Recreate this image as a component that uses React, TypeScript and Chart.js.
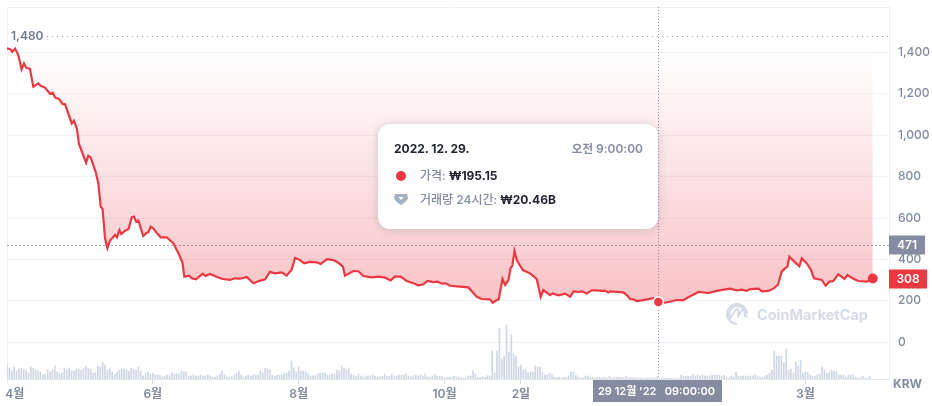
import { useEffect, useRef } from 'react';
import { Chart, registerables, type Plugin } from 'chart.js';

Chart.register(...registerables);

const FONT = 'Inter, "Noto Sans CJK KR", sans-serif';
const RED = '#ea3943';
const GREY = '#858ca2';
const TICK_GREY = '#808a9d';
const GRID = '#f1f3f6';

// days since 1 April 2022
const priceDays = [
  0, 1.3, 2.2, 3.4, 4.7, 5.4, 6.1, 7.1, 8, 9.6, 11, 13.1, 14.1, 15.9, 18, 19.1, 20.1, 21.9, 23.2, 24.3,
  27.1, 28, 29.2, 30.1, 33.1, 34, 35, 37.2, 38.2, 39.2, 40, 41, 42, 43.1, 45.2, 46, 47, 47.8, 49.4, 50.8,
  52.2, 53.1, 54, 55, 57, 58.4, 59.1, 60.1, 61.2, 62.6, 64.3, 66.8, 69.6, 71.7, 73.4, 74.2, 76.2, 77.3, 79, 81.9,
  83.1, 84.9, 87.7, 89.8, 93.3, 95.4, 97.5, 100.3, 103.1, 105.9, 108, 110, 112.1, 114.9, 117, 119.1, 120.5, 122.6, 124.3, 126.8,
  129.6, 131.2, 133.8, 136.5, 138.6, 140.5, 141.4, 144.9, 147, 149.1, 152.6, 155.4, 158.2, 160.5, 162.4, 164.7, 167.2, 170, 172.1, 174.2,
  175.9, 178.4, 180.1, 181.9, 183.5, 185.4, 189.5, 193, 196.5, 198.6, 202.1, 203.2, 204.9, 205.7, 207.3, 208.4, 209.8, 210.7, 211.4, 212.3,
  213.3, 215.8, 218.8, 221.6, 223.3, 224.4, 227.2, 228.3, 230.7, 233.5, 235.6, 237, 239.1, 240.5, 242.5, 244.6, 246.7, 248.8, 250.2, 251.6,
  252.3, 257.9, 259.3, 260.7, 262.1, 263.5, 266.2, 270.4, 272.5, 275.3, 278.1, 280.2, 283, 285.8, 289.3, 293.4, 296.9, 302.5, 305.3, 307.4,
  309.5, 310.9, 314.4, 315.8, 318.5, 320.6, 322.5, 324.1, 325.5, 326.5, 327.3, 329.7, 331.5, 332.5, 334.6, 336.4, 337.6, 340.9, 342.5, 344,
  345.7, 347.8, 350.4, 351.6, 354.1, 356.2, 359.7, 362.2,
];

const priceValues = [
  1419, 1415, 1403, 1418, 1387, 1355, 1318, 1347, 1326, 1320, 1234, 1250, 1238, 1230, 1199, 1205, 1183, 1173, 1151, 1149,
  1057, 1070, 1033, 958, 867, 901, 893, 819, 768, 655, 644, 502, 455, 491, 518, 507, 542, 523, 539, 546,
  603, 607, 583, 587, 513, 529, 531, 558, 550, 529, 507, 507, 478, 430, 385, 317, 322, 309, 304, 331,
  320, 330, 317, 307, 301, 309, 307, 315, 285, 298, 304, 340, 333, 338, 322, 352, 407, 397, 381, 388,
  386, 378, 401, 397, 384, 365, 322, 344, 343, 320, 314, 317, 312, 299, 318, 317, 296, 285, 275, 280,
  296, 291, 293, 283, 285, 273, 269, 265, 220, 209, 207, 191, 204, 207, 306, 277, 301, 360, 368, 441,
  397, 349, 333, 306, 219, 252, 228, 236, 227, 235, 220, 246, 243, 246, 236, 251, 251, 248, 249, 241,
  246, 241, 228, 209, 207, 199, 204, 213, 195.15, 191, 198, 204, 204, 222, 243, 238, 248, 259, 251, 254,
  249, 257, 259, 246, 248, 259, 277, 341, 357, 365, 413, 386, 367, 405, 381, 349, 309, 301, 273, 293,
  296, 328, 306, 325, 307, 296, 293, 308,
];

// one bar per day, billions of won
const volumeValues = [
  150, 110, 80, 120, 80, 100, 110, 100, 80, 60, 120, 110, 90, 80, 70, 40, 50, 90, 70, 90, 130, 70, 50, 60, 110, 90, 110, 80, 80, 100,
  100, 90, 110, 130, 110, 100, 60, 70, 130, 120, 170, 140, 90, 100, 70, 50, 70, 90, 100, 100, 90, 80, 110, 90, 90, 120, 80, 30, 60, 70,
  50, 60, 40, 40, 40, 20, 30, 40, 30, 60, 50, 50, 50, 80, 70, 70, 30, 30, 40, 30, 30, 40, 30, 30, 40, 30, 20, 20, 30, 50,
  80, 40, 20, 20, 20, 40, 60, 80, 40, 20, 30, 40, 30, 40, 40, 40, 80, 60, 110, 100, 90, 40, 30, 40, 40, 40, 60, 60, 80, 180,
  110, 70, 120, 80, 80, 70, 50,
  30, 30, 33, 53, 60, 60, 60, 40, 40, 50, 50, 90, 80, 130, 110, 90, 110, 50, 40, 30, 50, 30, 20, 30, 30, 30, 40, 30, 20, 20,
  27, 50, 30, 30, 50, 30, 30, 40, 40, 40, 50, 30, 20, 30, 40, 30, 40, 27, 50, 20, 20, 30, 50, 30, 30, 27, 13, 17, 17, 20,
  27, 20, 20, 10, 10, 10, 30, 30, 80, 50, 20, 17, 23, 17, 33, 30, 280, 60, 280, 510, 200, 230, 540, 270, 440, 250, 230, 120, 140, 90,
  90, 60, 70, 70, 130, 120, 120, 70, 40, 40, 60, 40, 20, 13, 20, 10, 17, 17, 30, 70, 70, 40, 20, 10, 10, 30, 30, 20, 17, 10,
  13, 17, 10, 20, 10,
  30, 13, 13, 17, 13, 13, 10, 30, 17, 13, 13, 10, 10, 10, 7, 4, 10, 7, 10, 10, 20.46, 6, 5, 10, 7, 10, 7, 7, 4, 4,
  40, 27, 27, 30, 30, 50, 30, 40, 30, 40, 30, 30, 30, 40, 40, 40, 40, 30, 40, 20, 10, 30, 20, 70, 30, 30, 30, 30, 30, 30,
  30, 40, 30, 20, 20, 30, 40, 60, 90, 280, 230, 230, 230, 160, 300, 90, 100, 60, 170, 130, 190, 60, 70, 70, 40, 30, 30, 40, 50, 120,
  90, 60, 70, 90, 80, 70, 40, 40, 40, 20, 40, 40, 40, 20, 10, 10, 30, 10, 10, 30,
];

const xTickDays = [3.3, 61, 122, 183, 215, 334];
const xTickLabels = ['4월', '6월', '8월', '10월', '2일', '3월'];
const yTickValues = [0, 200, 400, 600, 800, 1000, 1200, 1400];

const highPrice = 1480;
const highLabel = '1,480';
const referencePrice = 471;
const currentPrice = 308;
const currentDay = 362.2;
const hoverDay = 272.5;
const hoverPrice = 195.15;
const hoverAxisLabel = "29 12월 '22   09:00:00";
const startPrice = 1415;

const overlay: Plugin<'line'> = {
  id: 'overlay',
  beforeDatasetsDraw(chart) {
    const { ctx, chartArea: a, scales } = chart;
    const hoverX = scales.x.getPixelForValue(hoverDay);
    const highY = Math.round(scales.y.getPixelForValue(highPrice)) + 0.5;
    const refY = Math.round(scales.y.getPixelForValue(referencePrice)) + 0.5;
    ctx.save();
    ctx.strokeStyle = '#eff2f5';
    ctx.lineWidth = 1;
    ctx.beginPath();
    ctx.moveTo(a.left + 0.5, a.bottom + 5);
    ctx.lineTo(a.left + 0.5, a.top + 0.5);
    ctx.lineTo(a.right, a.top + 0.5);
    ctx.stroke();

    ctx.strokeStyle = '#9aa2b5';
    ctx.setLineDash([1, 4]);
    ctx.beginPath();
    ctx.moveTo(a.left + 40, highY);
    ctx.lineTo(a.right, highY);
    ctx.stroke();
    ctx.setLineDash([2, 2]);
    ctx.beginPath();
    ctx.moveTo(a.left, refY);
    ctx.lineTo(a.right, refY);
    ctx.stroke();
    ctx.strokeStyle = '#8f9db8';
    ctx.setLineDash([1, 2]);
    ctx.beginPath();
    ctx.moveTo(Math.round(hoverX) + 0.5, a.top);
    ctx.lineTo(Math.round(hoverX) + 0.5, a.bottom);
    ctx.stroke();
    ctx.restore();
  },
  afterDraw(chart) {
    const { ctx, chartArea: a, scales } = chart;
    const hoverX = scales.x.getPixelForValue(hoverDay);
    ctx.save();
    ctx.textBaseline = 'middle';

    ctx.font = `600 12px ${FONT}`;
    ctx.fillStyle = '#6f7a90';
    ctx.textAlign = 'left';
    ctx.fillText(highLabel, a.left + 4, scales.y.getPixelForValue(highPrice) + 1);

    const tag = (text: string, price: number, width: number, color: string) => {
      const y = scales.y.getPixelForValue(price);
      ctx.fillStyle = color;
      ctx.fillRect(a.right, Math.round(y) - 9.5, width, 19);
      ctx.fillStyle = '#fff';
      ctx.textAlign = 'center';
      ctx.fillText(text, a.right + width / 2, y + 0.5);
    };
    tag(String(referencePrice), referencePrice, 36, GREY);
    tag(String(currentPrice), currentPrice, 38, RED);

    ctx.fillStyle = GREY;
    ctx.fillRect(Math.round(hoverX) - 65, a.bottom + 1, 129, 22);
    ctx.fillStyle = '#fff';
    ctx.textAlign = 'center';
    ctx.font = `600 11px ${FONT}`;
    ctx.fillText(hoverAxisLabel, Math.round(hoverX) - 1.5, a.bottom + 12.5);

    ctx.font = `700 12px ${FONT}`;
    ctx.fillStyle = GREY;
    ctx.textAlign = 'left';
    ctx.fillText('KRW', a.right + 4, a.bottom + 5);
    ctx.restore();
  },
};

export default function App() {
  const canvasRef = useRef<HTMLCanvasElement | null>(null);

  useEffect(() => {
    const canvas = canvasRef.current;
    if (!canvas) return;
    const chart = new Chart(canvas, {
      type: 'line',
      data: {
        datasets: [
          {
            type: 'scatter',
            data: [
              { x: hoverDay, y: hoverPrice },
              { x: currentDay, y: currentPrice },
            ],
            yAxisID: 'y',
            pointRadius: 5,
            pointBackgroundColor: RED,
            pointBorderColor: ['#ffffff', RED],
            pointBorderWidth: [1.5, 0],
            order: 0,
          },
          {
            type: 'line',
            data: priceDays.map((x, i) => ({ x, y: priceValues[i] })),
            yAxisID: 'y',
            borderColor: RED,
            borderWidth: 2.2,
            pointRadius: 0,
            tension: 0,
            fill: { value: startPrice },
            backgroundColor: (c: any) => {
              const { chart: ch } = c;
              const scale = ch.scales?.y;
              if (!ch.chartArea || !scale) return 'rgba(234,57,67,0)';
              const g = ch.ctx.createLinearGradient(
                0,
                scale.getPixelForValue(startPrice),
                0,
                scale.getPixelForValue(190),
              );
              g.addColorStop(0, 'rgba(234,57,67,0)');
              g.addColorStop(1, 'rgba(234,57,67,0.3)');
              return g;
            },
            order: 1,
          },
          {
            type: 'bar',
            data: volumeValues.map((y, x) => ({ x, y })),
            yAxisID: 'yVol',
            backgroundColor: '#cfd6e4',
            barThickness: 1,
            order: 2,
          },
        ],
      } as any,
      options: {
        animation: false,
        responsive: false,
        layout: { padding: { left: 7, top: 7, right: 0, bottom: 0 } },
        plugins: { legend: { display: false }, tooltip: { enabled: false } },
        scales: {
          x: {
            type: 'linear',
            offset: false,
            min: 0,
            max: 369,
            afterBuildTicks: (s) => {
              s.ticks = xTickDays.map((value) => ({ value }));
            },
            afterFit: (s) => {
              s.height = 27;
              s.paddingLeft = 0;
              s.paddingRight = 0;
            },
            grid: {
              offset: false,
              drawOnChartArea: false,
              drawTicks: true,
              tickLength: 5,
              color: (c) => (c.index === 0 ? 'rgba(0,0,0,0)' : '#d5dae4'),
            },
            border: { color: '#e3e7ee' },
            ticks: {
              autoSkip: false,
              maxRotation: 0,
              padding: 3,
              color: TICK_GREY,
              font: { family: FONT, size: 12, weight: 600 },
              callback: (v) => xTickLabels[xTickDays.indexOf(Number(v))] ?? '',
            },
          },
          y: {
            position: 'right',
            min: -177.2,
            max: 1619,
            afterBuildTicks: (s) => {
              s.ticks = yTickValues.map((value) => ({ value }));
            },
            afterFit: (s) => {
              s.width = 43;
              s.paddingTop = 0;
              s.paddingBottom = 0;
            },
            grid: { color: GRID, drawTicks: false },
            border: { color: '#eff2f5' },
            ticks: {
              padding: 9,
              color: TICK_GREY,
              font: { family: FONT, size: 12, weight: 500 },
              callback: (v) => Number(v).toLocaleString('en-US'),
            },
          },
          yVol: {
            display: false,
            min: 0,
            max: 3720,
            afterFit: (s) => {
              s.paddingTop = 0;
              s.paddingBottom = 0;
            },
          },
        },
      },
      plugins: [overlay],
    });
    return () => chart.destroy();
  }, []);

  return (
    <div style={{ position: 'fixed', left: 0, top: 0, width: 932, height: 406, overflow: 'hidden', background: '#fff', fontFamily: FONT }}>
      <canvas ref={canvasRef} width={932} height={406} style={{ display: 'block', width: 932, height: 406 }} />

      {/* watermark */}
      <svg width="24" height="24" viewBox="0 0 24 24" style={{ position: 'absolute', left: 725, top: 302 }}>
        <path
          d="M21.6 14.2c-.4.3-.9.3-1.3.1-.5-.3-.7-.9-.7-1.7v-2.4c0-1.1-.4-1.9-1.2-2.1-1.3-.4-2.3 1.2-2.7 1.800l-2.3 3.7V8.9c0-1.1-.4-1.7-1.1-1.9-.5-.2-1.2-.1-1.9 1l-5.1 8.2C4.6 14.8 4.2 13.4 4.2 12 4.2 7.6 7.7 4 12 4s7.8 3.6 7.8 8v.1c0 .7.3 1.4.9 1.7.5.2 1 .2.9.4ZM12 22C6.500 22 2 17.500 2 12S6.500 2 12 2s10 4.500 10 10"
          fill="none"
          stroke="#d5dbe8"
          strokeWidth="2"
        />
      </svg>
      <div style={{ position: 'absolute', left: 757, top: 304, fontSize: 14.5, lineHeight: '22px', fontWeight: 700, color: '#d5dbe8', whiteSpace: 'nowrap' }}>
        CoinMarketCap
      </div>

      {/* hover card */}
      <div
        style={{
          position: 'absolute',
          left: 378,
          top: 124,
          width: 280,
          height: 105,
          borderRadius: 12,
          background: '#fff',
          boxShadow: '0 1px 10px rgba(128,138,157,0.35)',
          fontSize: 12,
          whiteSpace: 'nowrap',
        }}
      >
        <div style={{ position: 'absolute', left: 16, top: 17, lineHeight: '16px', fontWeight: 700, color: '#222531' }}>2022. 12. 29.</div>
        <div style={{ position: 'absolute', right: 15, top: 17, lineHeight: '16px', fontWeight: 600, color: GREY }}>
          <span style={{ fontSize: 11.5 }}>오전</span> 9:00:00
        </div>
        <div style={{ position: 'absolute', left: 18, top: 47, width: 10, height: 10, borderRadius: 5, background: RED }} />
        <div style={{ position: 'absolute', left: 42, top: 44, lineHeight: '16px', color: GREY, fontWeight: 500 }}>
          가격: <span style={{ color: '#222531', fontWeight: 700 }}>₩195.15</span>
        </div>
        <svg width="14" height="11" viewBox="0 0 14 11" style={{ position: 'absolute', left: 16, top: 70 }}>
          <path d="M1 0h12l1 4c0 2-5 6-7 7-2-1-7-5-7-7Z" fill="#a6b0c3" />
          <path d="M4.500 3h5L7 6Z" fill="#fff" />
        </svg>
        <div style={{ position: 'absolute', left: 42, top: 68, lineHeight: '16px', color: GREY, fontWeight: 500 }}>
          거래량 24시간: <span style={{ color: '#222531', fontWeight: 700 }}>₩20.46B</span>
        </div>
      </div>
    </div>
  );
}
